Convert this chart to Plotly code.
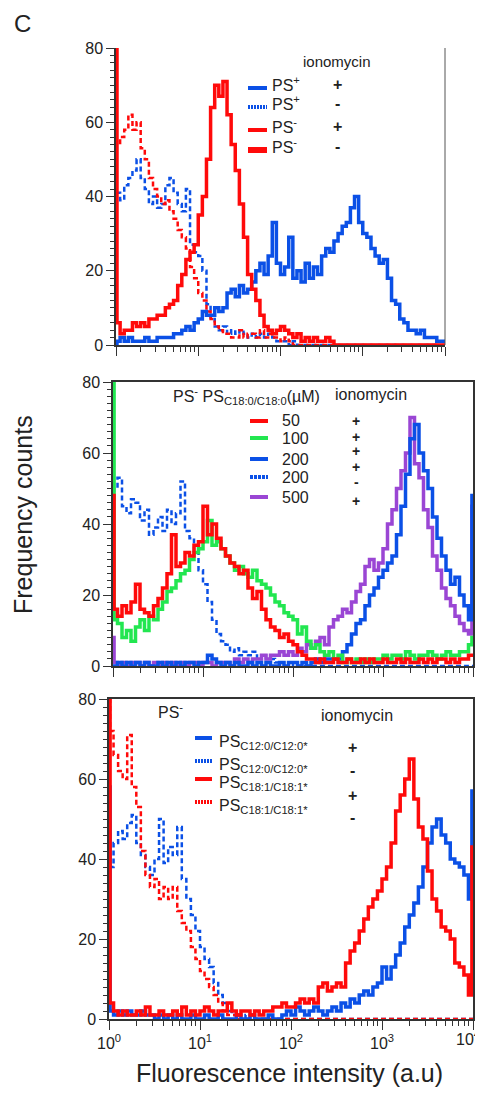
import plotly.graph_objects as go

PAGE_OFFSET = 8          # default body margin of the html page
W, H = 483 - PAGE_OFFSET, 1093 - PAGE_OFFSET
BIN_DECADES = 0.05
N_BINS = 80
EDGE_CH = 0.012  # width (decades) of first/last channel

BLUE = '#0b50e6'
RED = '#ff0a0a'
GREEN = '#22e650'
PURPLE = '#9a46d4'
INK = '#222222'
FONT = 'Arial, Liberation Sans, sans-serif'

# Each list: [first channel, 80 log-bins (0.05 decade each, 10^0 .. 10^4), last channel]
# ---- Panel 1 ----
P1_PSPOS_IONO_POS = [0,
    1, 2, 1, 2, 1, 1, 1, 2, 1, 1, 2, 2, 2, 2, 3, 3, 4, 5, 4, 6,
    7, 9, 8, 8, 10, 9, 10, 14, 15, 13, 16, 14, 15, 17, 20, 22, 19, 24, 33, 22,
    19, 21, 29, 18, 20, 17, 22, 18, 21, 19, 24, 26, 25, 28, 30, 32, 33, 37, 40, 33,
    30, 29, 26, 24, 22, 23, 18, 12, 11, 7, 6, 4, 4, 3, 4, 2, 2, 2, 1, 1,
    1]
P1_PSPOS_IONO_NEG = [41,
    41, 39, 43, 45, 47, 50, 45, 42, 38, 40, 37, 38, 43, 45, 41, 38, 36, 42, 27, 25,
    24, 20, 11, 7, 5, 4, 5, 3, 4, 3, 4, 3, 2, 3, 2, 3, 2, 3, 2, 1,
    1, 1, 0, 1, 0, 0, 0, 0, 0, 0, 0, 0, 0, 0, 0, 0, 0, 0, 0, 0,
    0, 0, 0, 0, 0, 0, 0, 0, 0, 0, 0, 0, 0, 0, 0, 0, 0, 0, 0, 0,
    0]
P1_PSNEG_IONO_POS = [80,
    6, 3, 4, 4, 6, 5, 6, 5, 7, 7, 8, 8, 10, 11, 12, 16, 19, 23, 25, 27,
    35, 40, 50, 64, 70, 67, 71, 62, 54, 47, 38, 29, 19, 15, 12, 8, 5, 4, 3, 4,
    5, 4, 3, 2, 3, 1, 2, 1, 2, 1, 1, 2, 1, 0, 0, 0, 0, 0, 0, 0,
    0, 0, 0, 0, 0, 0, 0, 0, 0, 0, 0, 0, 0, 0, 0, 0, 0, 0, 0, 0,
    0]
P1_PSNEG_IONO_NEG = [55,
    54, 56, 58, 62, 58, 60, 53, 50, 45, 42, 40, 38, 39, 36, 34, 31, 29, 26, 21, 18,
    14, 12, 9, 7, 5, 4, 3, 3, 2, 2, 4, 2, 3, 3, 2, 4, 2, 3, 2, 2,
    1, 2, 1, 0, 0, 0, 0, 0, 0, 0, 0, 0, 0, 0, 0, 0, 0, 0, 0, 0,
    0, 0, 0, 0, 0, 0, 0, 0, 0, 0, 0, 0, 0, 0, 0, 0, 0, 0, 0, 0,
    0]

# ---- Panel 2 (PS- + PS C18:0/C18:0, uM) ----
P2_50_POS = [48,
    16, 14, 17, 15, 18, 23, 16, 15, 14, 17, 19, 22, 26, 37, 28, 29, 32, 31, 34, 35,
    45, 37, 40, 36, 33, 31, 29, 28, 26, 27, 22, 19, 21, 16, 13, 11, 10, 8, 9, 7,
    6, 4, 3, 2, 2, 1, 2, 1, 1, 2, 1, 1, 2, 1, 1, 2, 1, 2, 1, 1,
    2, 1, 1, 2, 1, 2, 1, 1, 2, 1, 2, 1, 2, 2, 1, 2, 1, 2, 2, 3,
    3]
P2_100_POS = [80,
    13, 12, 8, 10, 7, 11, 13, 10, 14, 13, 16, 18, 21, 22, 24, 26, 27, 30, 32, 33,
    35, 41, 34, 35, 33, 31, 29, 27, 28, 26, 25, 27, 24, 23, 22, 20, 18, 17, 15, 14,
    13, 9, 11, 7, 5, 6, 4, 3, 4, 2, 3, 1, 2, 1, 2, 1, 2, 1, 2, 2,
    3, 2, 3, 3, 2, 4, 3, 2, 3, 3, 4, 3, 2, 3, 4, 3, 3, 4, 4, 6,
    8]
P2_200_POS = [0,
    0, 1, 0, 1, 0, 1, 0, 1, 0, 0, 1, 0, 1, 0, 1, 0, 1, 1, 0, 1,
    1, 3, 2, 1, 0, 1, 0, 1, 0, 0, 1, 0, 1, 0, 1, 0, 0, 1, 0, 1,
    1, 0, 1, 0, 1, 2, 1, 2, 2, 2, 2, 4, 6, 9, 12, 13, 17, 20, 22, 25,
    27, 29, 31, 37, 45, 54, 64, 68, 60, 55, 50, 42, 36, 31, 27, 23, 25, 20, 17, 13,
    48]
P2_200_NEG = [47,
    50, 53, 45, 43, 47, 46, 41, 44, 37, 39, 42, 38, 44, 40, 43, 52, 38, 36, 32, 27,
    23, 18, 13, 9, 7, 6, 4, 5, 3, 4, 3, 4, 2, 3, 1, 2, 1, 1, 0, 1,
    0, 0, 0, 0, 0, 0, 0, 0, 0, 0, 0, 0, 0, 0, 0, 0, 0, 0, 0, 0,
    0, 0, 0, 0, 0, 0, 0, 0, 0, 0, 0, 0, 0, 0, 0, 0, 0, 0, 0, 0,
    0]
P2_500_POS = [8,
    1, 0, 1, 0, 1, 1, 0, 1, 0, 1, 0, 1, 0, 1, 0, 1, 0, 1, 1, 0,
    1, 1, 0, 1, 1, 1, 0, 2, 1, 2, 1, 2, 2, 3, 2, 3, 3, 4, 3, 4,
    3, 5, 4, 6, 5, 7, 8, 6, 11, 13, 14, 16, 15, 18, 21, 23, 28, 30, 27, 29,
    33, 40, 44, 50, 55, 60, 70, 57, 53, 44, 39, 31, 27, 22, 19, 17, 14, 12, 10, 9,
    45]

# ---- Panel 3 (PS-) ----
P3_C12_POS = [58,
    2, 1, 2, 1, 2, 1, 1, 2, 1, 1, 0, 1, 0, 1, 0, 1, 0, 0, 1, 0,
    0, 1, 0, 0, 1, 0, 0, 0, 1, 0, 0, 1, 0, 0, 0, 1, 0, 0, 1, 2,
    1, 3, 2, 1, 2, 3, 2, 1, 2, 3, 2, 4, 3, 5, 4, 6, 7, 6, 8, 9,
    13, 10, 13, 16, 19, 23, 26, 29, 33, 38, 44, 48, 50, 46, 44, 40, 39, 38, 36, 30,
    57]
P3_C12_NEG = [40,
    38, 44, 47, 45, 49, 51, 44, 41, 38, 36, 40, 50, 39, 43, 41, 48, 35, 30, 26, 22,
    18, 15, 13, 9, 6, 4, 2, 1, 1, 0, 1, 0, 0, 0, 0, 0, 0, 0, 0, 0,
    0, 0, 0, 0, 0, 0, 0, 0, 0, 0, 0, 0, 0, 0, 0, 0, 0, 0, 0, 0,
    0, 0, 0, 0, 0, 0, 0, 0, 0, 0, 0, 0, 0, 0, 0, 0, 0, 0, 0, 0,
    0]
P3_C18_POS = [80,
    4, 2, 1, 2, 1, 1, 2, 1, 3, 1, 1, 2, 1, 1, 2, 1, 3, 1, 2, 1,
    2, 3, 2, 1, 2, 2, 4, 2, 1, 2, 2, 1, 2, 1, 2, 2, 3, 3, 4, 3,
    3, 4, 5, 4, 5, 4, 8, 9, 7, 8, 9, 8, 14, 17, 19, 22, 25, 28, 30, 32,
    35, 38, 44, 52, 56, 60, 65, 55, 48, 45, 37, 30, 27, 23, 22, 20, 14, 13, 11, 6,
    43]
P3_C18_NEG = [80,
    72, 66, 62, 60, 71, 58, 53, 42, 36, 33, 35, 30, 33, 30, 33, 27, 24, 22, 18, 15,
    12, 10, 8, 6, 4, 2, 1, 1, 0, 0, 0, 0, 0, 0, 0, 0, 0, 0, 0, 0,
    0, 0, 0, 0, 0, 0, 0, 0, 0, 0, 0, 0, 0, 0, 0, 0, 0, 0, 0, 0,
    0, 0, 0, 0, 0, 0, 0, 0, 0, 0, 0, 0, 0, 0, 0, 0, 0, 0, 0, 0,
    0]

DECADES = [1, 10, 100, 1000, 10000]
# the 10^4 label sits at the page edge; it is placed as an annotation instead
DECADE_LABELS = ['10<sup>0</sup>', '10<sup>1</sup>', '10<sup>2</sup>', '10<sup>3</sup>', '']
LAST_DECADE_LABEL = '10<sup>4</sup>'
Y_TICKS = [0, 20, 40, 60, 80]


def step_xy(vals):
    starts = [0.0, EDGE_CH] + [BIN_DECADES * k for k in range(1, N_BINS)] + [4 - EDGE_CH]
    xs = [10 ** s for s in starts] + [10 ** 4]
    ys = list(vals) + [vals[-1]]
    return xs, ys


def px(x):
    return (x - PAGE_OFFSET) / W


def py(y):
    return 1 - (y - PAGE_OFFSET) / H


fig = go.Figure()

# (panel, values, color, dashed)
SERIES = [
    (1, P1_PSPOS_IONO_NEG, BLUE, True),
    (1, P1_PSNEG_IONO_NEG, RED, True),
    (1, P1_PSPOS_IONO_POS, BLUE, False),
    (1, P1_PSNEG_IONO_POS, RED, False),
    (2, P2_200_NEG, BLUE, True),
    (2, P2_500_POS, PURPLE, False),
    (2, P2_200_POS, BLUE, False),
    (2, P2_100_POS, GREEN, False),
    (2, P2_50_POS, RED, False),
    (3, P3_C12_NEG, BLUE, True),
    (3, P3_C18_NEG, RED, True),
    (3, P3_C12_POS, BLUE, False),
    (3, P3_C18_POS, RED, False),
]
for panel, vals, color, dashed in SERIES:
    xs, ys = step_xy(vals)
    sfx = '' if panel == 1 else str(panel)
    fig.add_trace(go.Scatter(
        x=xs, y=ys, mode='lines', line_shape='hv',
        line=dict(color=color, width=2.5 if dashed else 3.5,
                  dash='5px,3px' if dashed else 'solid'),
        xaxis='x' + sfx, yaxis='y' + sfx, showlegend=False, hoverinfo='skip'))

# panel boxes in page pixels: (left, right, top, bottom)
BOXES = {1: (116, 445, 48, 345), 2: (113, 473, 382, 666), 3: (109, 473, 699, 1019)}
minor_x = [m * 10 ** k for k in range(4) for m in range(2, 10)]

layout = dict(width=W, height=H, margin=dict(l=0, r=0, t=0, b=0, autoexpand=False),
              paper_bgcolor='white', plot_bgcolor='white', showlegend=False,
              font=dict(family=FONT, color=INK))
for p, (l, r, t, b) in BOXES.items():
    sfx = '' if p == 1 else str(p)
    mirror = p != 1
    layout['xaxis' + sfx] = dict(
        type='log', range=[0, 4], domain=[px(l), min(1.0, px(r))], anchor='y' + sfx,
        automargin=False, ticklabeloverflow='allow',
        showline=True, linecolor='#333', linewidth=1.5, mirror=mirror,
        ticks='outside', tickvals=DECADES, ticktext=DECADE_LABELS, ticklen=9,
        tickwidth=1.2, tickcolor='#333', showgrid=False, zeroline=False,
        showticklabels=(p == 3), tickfont=dict(size=16, family=FONT, color=INK),
        layer='below traces',
        minor=dict(tickmode='array', tickvals=minor_x, ticks='outside', ticklen=5,
                   tickwidth=1, tickcolor='#333', showgrid=False))
    layout['yaxis' + sfx] = dict(
        range=[0, 80], domain=[py(b), py(t)], anchor='x' + sfx,
        automargin=False,
        showline=True, linecolor='#333', linewidth=1.5, mirror=mirror,
        ticks='outside', tickvals=Y_TICKS, ticklen=8, tickwidth=1.2, tickcolor='#333',
        showgrid=False, zeroline=False, layer='below traces',
        tickfont=dict(size=16, family=FONT, color=INK),
        minor=dict(dtick=2, ticks='outside', ticklen=4, tickwidth=1, tickcolor='#333',
                   showgrid=False))
fig.update_layout(**layout)

shapes = []
# panel 1 right frame line
shapes.append(dict(type='line', xref='paper', yref='paper', x0=px(445), x1=px(445),
                   y0=py(345), y1=py(48), line=dict(color='#555', width=1)))


def sample(x0, x1, y, color, width=4, dash='solid'):
    shapes.append(dict(type='line', xref='paper', yref='paper', x0=px(x0), x1=px(x1),
                       y0=py(y), y1=py(y), line=dict(color=color, width=width, dash=dash)))


anns = []


def text(t, x, y, size=16, xanchor='left', yanchor='middle', angle=0):
    anns.append(dict(text=t, x=px(x), y=py(y), xref='paper', yref='paper',
                     xanchor=xanchor, yanchor=yanchor, showarrow=False, textangle=angle,
                     font=dict(size=size, family=FONT, color=INK)))


# panel 1 legend
text('ionomycin', 337, 62, 15, 'center')
for y, c, w, d, lab, sign in [(88, BLUE, 4, 'solid', 'PS<sup>+</sup>', '+'),
                              (107, BLUE, 4, '2px,1px', 'PS<sup>+</sup>', '-'),
                              (130, RED, 4, 'solid', 'PS<sup>-</sup>', '+'),
                              (150, RED, 6, 'solid', 'PS<sup>-</sup>', '-')]:
    sample(248, 267, y, c, w, d)
    text(lab, 270, y - 4)
    text('<b>%s</b>' % sign, 337, y - 3, 16, 'center')

# panel 2 legend
text('PS<sup>-</sup> PS<sub>C18:0/C18:0</sub>(µM)', 171, 396)
text('ionomycin', 333, 395)
for y, c, d, lab in [(421, RED, 'solid', '50'), (438, GREEN, 'solid', '100'),
                     (459, BLUE, 'solid', '200'), (477, BLUE, '3px,1px', '200'),
                     (497, PURPLE, 'solid', '500')]:
    sample(250, 268, y, c, 4, d)
    text(lab, 280, y)
for y, sign in [(421, '+'), (437, '+'), (451, '+'), (467, '+'), (482, '-'), (501, '+')]:
    text('<b>%s</b>' % sign, 356, y, 14, 'center')

# panel 3 legend
text('PS<sup>-</sup>', 156, 711)
text('ionomycin', 357, 715, 16, 'center')
for y, c, d, lab in [(738, BLUE, 'solid', 'PS<sub>C12:0/C12:0*</sub>'),
                     (761, BLUE, '2px,1px', 'PS<sub>C12:0/C12:0*</sub>'),
                     (779, RED, 'solid', 'PS<sub>C18:1/C18:1*</sub>'),
                     (802, RED, '2px,1px', 'PS<sub>C18:1/C18:1*</sub>')]:
    sample(195, 212, y, c, 4, d)
    text(lab, 217, y + 4)
for y, sign in [(747, '+'), (770, '-'), (795, '+'), (817, '-')]:
    text('<b>%s</b>' % sign, 352, y, 16, 'center')

# last decade label at the right page edge
text(LAST_DECADE_LABEL, 482, 1038, 16, 'right')

# titles
text('C', 12, 24, 24)
text('Frequency counts', 23, 515, 25, 'center', 'middle', -90)
text('Fluorescence intensity (a.u)', 289, 1073, 25, 'center')

fig.update_layout(shapes=shapes, annotations=anns)
fig.write_html('out.html')
